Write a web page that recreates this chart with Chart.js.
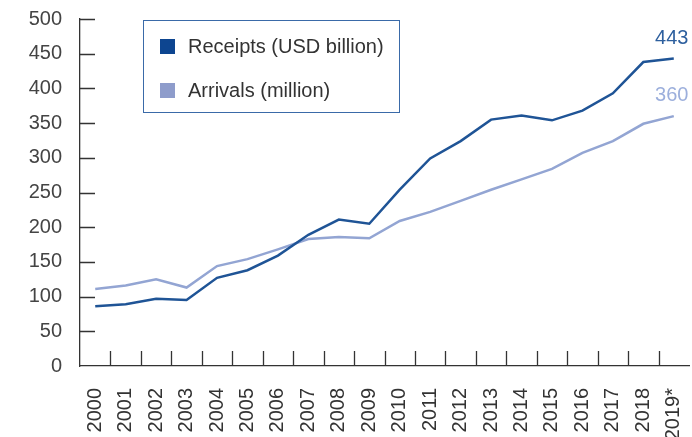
<!DOCTYPE html>
<html>
<head>
<meta charset="utf-8">
<script src="https://cdn.jsdelivr.net/npm/chart.js@4"></script>
<style>
  body { margin: 0; background: #fff; }
  #wrap { position: relative; width: 692px; height: 437px; }
  #legend {
    position: absolute; left: 143px; top: 20px; width: 255px; height: 91px;
    border: 1.5px solid #3a6aa8; font: 20px 'Liberation Sans', Arial, sans-serif; color: #333;
  }
  #legend .item { position: absolute; left: 16px; height: 24px; line-height: 24px; white-space: nowrap; }
  #legend .sw { display: inline-block; width: 15px; height: 15px; vertical-align: -1px; margin-right: 13px; }
</style>
</head>
<body>
<div id="wrap">
  <canvas id="chart" width="692" height="437"></canvas>
  <div id="legend"></div>
</div>
<script>
// data
const years = ['2000', '2001', '2002', '2003', '2004', '2005', '2006', '2007', '2008', '2009',
               '2010', '2011', '2012', '2013', '2014', '2015', '2016', '2017', '2018', '2019*'];
const receipts = [86, 89, 97, 95, 127, 138, 159, 189, 211, 205, 254, 299, 324, 355, 361, 354, 368, 393, 438, 443];
const arrivals = [111, 116, 125, 113, 144, 154, 168, 183, 186, 184, 209, 222, 238, 254, 269, 284, 307, 324, 349, 360];
const seriesNames = ['Receipts (USD billion)', 'Arrivals (million)'];
const endLabels = ['443', '360'];

const darkBlue = '#1f5496';
const lightBlue = '#93a5d3';
const axisColor = '#333';
const fontFamily = "'Liberation Sans', Arial, sans-serif";

// tick marks pointing into the plot, plus the value at the end of each line
const innerTicks = {
  id: 'innerTicks',
  afterDraw(chart) {
    const ctx = chart.ctx;
    const x = chart.scales.x;
    const y = chart.scales.y;
    const area = chart.chartArea;
    ctx.save();
    ctx.strokeStyle = axisColor;
    ctx.lineWidth = 1.3;
    ctx.beginPath();
    for (let i = 1; i < x.ticks.length; i++) {
      const px = Math.round((x.getPixelForTick(i - 1) + x.getPixelForTick(i)) / 2) + 0.5;
      ctx.moveTo(px, area.bottom);
      ctx.lineTo(px, area.bottom - 15);
    }
    y.ticks.forEach((t, i) => {
      if (t.value === 0) return;
      const py = Math.round(y.getPixelForTick(i)) + 0.5;
      ctx.moveTo(area.left, py);
      ctx.lineTo(area.left + 15, py);
    });
    ctx.stroke();

    ctx.font = '20px ' + fontFamily;
    ctx.textAlign = 'center';
    ctx.textBaseline = 'alphabetic';
    chart.data.datasets.forEach((ds, i) => {
      const meta = chart.getDatasetMeta(i);
      const last = meta.data[meta.data.length - 1];
      ctx.fillStyle = i === 0 ? '#2d5f9e' : '#9cafdc';
      ctx.fillText(endLabels[i], last.x - 2, last.y - 15);
    });
    ctx.restore();
  }
};

new Chart(document.getElementById('chart'), {
  type: 'line',
  data: {
    labels: years,
    datasets: [
      { label: seriesNames[0], data: receipts, borderColor: darkBlue, backgroundColor: '#0d4590',
        borderWidth: 2.5, pointRadius: 0, tension: 0 },
      { label: seriesNames[1], data: arrivals, borderColor: lightBlue, backgroundColor: '#8e9ccb',
        borderWidth: 2.5, pointRadius: 0, tension: 0 }
    ]
  },
  options: {
    responsive: false,
    animation: false,
    layout: { padding: { top: 19, right: 3, left: 0, bottom: 0 } },
    plugins: { legend: { display: false }, tooltip: { enabled: false } },
    scales: {
      x: {
        offset: true,
        grid: { display: false, drawTicks: false },
        border: { display: true, color: axisColor, width: 1.3 },
        ticks: { minRotation: 90, maxRotation: 90, padding: 22, autoSkip: false,
                 color: '#333', font: { family: fontFamily, size: 20 } },
        afterFit(scale) {
          scale.height = 71;
          scale.paddingLeft = 0;
          scale.paddingRight = 0;
        }
      },
      y: {
        min: 0, max: 500,
        grid: { display: false, drawTicks: false },
        border: { display: true, color: axisColor, width: 1.3 },
        ticks: { stepSize: 50, padding: 18, color: '#444', font: { family: fontFamily, size: 20 } },
        afterFit(scale) {
          scale.width = 80;
          scale.paddingTop = 0;
          scale.paddingBottom = 0;
        }
      }
    }
  },
  plugins: [innerTicks]
});

// legend box inside the plot
const legend = document.getElementById('legend');
const swatches = ['#0d4590', '#8e9ccb'];
seriesNames.forEach((name, i) => {
  const item = document.createElement('div');
  item.className = 'item';
  item.style.top = (i === 0 ? 13 : 57) + 'px';
  item.innerHTML = '<span class="sw" style="background:' + swatches[i] + '"></span>' + name;
  legend.appendChild(item);
});
</script>
</body>
</html>
